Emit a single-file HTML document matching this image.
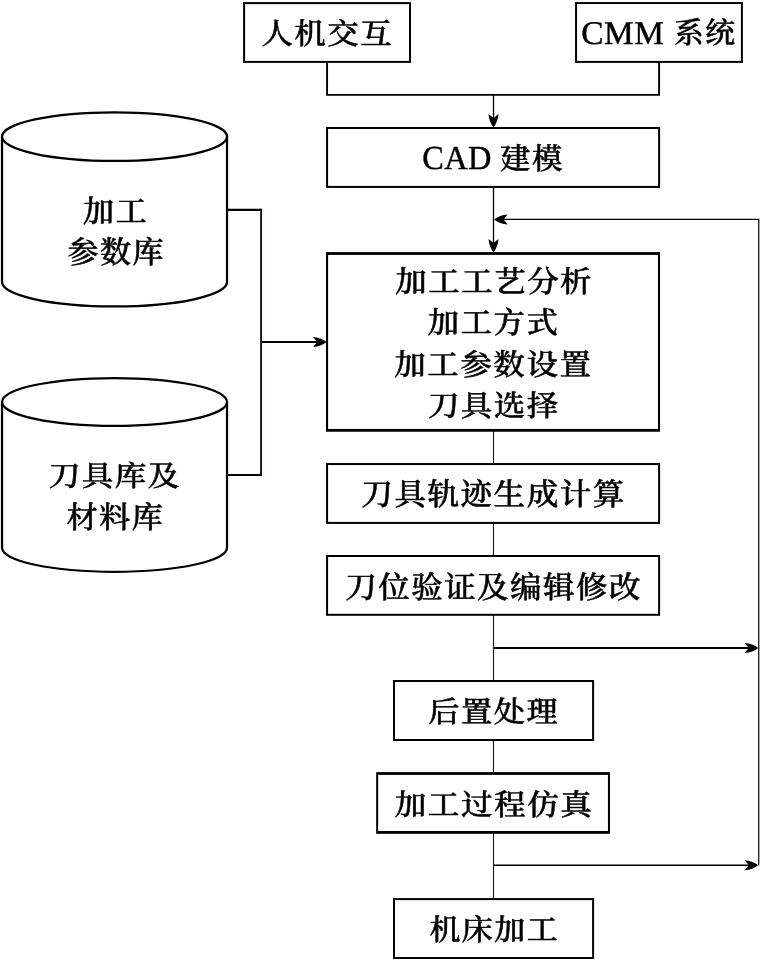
<!DOCTYPE html>
<html lang="zh-CN">
<head>
<meta charset="utf-8">
<title>CAD/CAM 加工流程图</title>
<style>
html,body{margin:0;padding:0;background:#fff;}
body{width:768px;height:960px;overflow:hidden;}
svg{display:block;will-change:transform;}
text{font-family:"Liberation Serif", "Noto Serif CJK SC", serif;fill:#000;text-rendering:geometricPrecision;font-size:32px;letter-spacing:1.5px;font-weight:500;stroke:#000;stroke-width:0.55px;stroke-linejoin:round;}
text.cy{stroke-width:0.55px;}
text.en{font-size:33px;letter-spacing:0.5px;font-weight:400;stroke-width:0.4px;}
</style>
</head>
<body>
<svg width="768" height="960" viewBox="0 0 768 960">
<rect x="0" y="0" width="768" height="960" fill="#fff"/>
<!-- connectors -->
<path d="M327.07 62 L327.07 94.9 L659.1 94.9 L659.1 62" fill="none" stroke="#000" stroke-width="1.9"/>
<path d="M493.5 94.9 L493.5 122" fill="none" stroke="#000" stroke-width="1.3"/>
<path d="M493.50 127.60 Q489.20 121.93 488.50 114.10 L493.50 118.10 L498.50 114.10 Q497.80 121.93 493.50 127.60 Z" fill="#000"/>
<path d="M493.5 187 L493.5 247" fill="none" stroke="#000" stroke-width="1.3"/>
<path d="M493.50 252.60 Q489.20 246.93 488.50 239.10 L493.50 243.10 L498.50 239.10 Q497.80 246.93 493.50 252.60 Z" fill="#000"/>
<path d="M498.5 219.4 L758.75 219.4 L758.75 865.3" fill="none" stroke="#000" stroke-width="1.2"/>
<path d="M494.10 219.50 Q499.77 215.20 507.60 214.50 L503.60 219.50 L507.60 224.50 Q499.77 223.80 494.10 219.50 Z" fill="#000"/>
<path d="M493.5 430 L493.5 900" fill="none" stroke="#101810" stroke-width="1.1"/>
<path d="M493.5 647.95 L753.75 647.95" fill="none" stroke="#000" stroke-width="2.1"/>
<path d="M758.25 647.95 Q752.58 643.65 744.75 642.95 L748.75 647.95 L744.75 652.95 Q752.58 652.25 758.25 647.95 Z" fill="#000"/>
<path d="M493.5 865.3 L753.75 865.3" fill="none" stroke="#000" stroke-width="1.4"/>
<path d="M758.25 865.30 Q752.58 861.00 744.75 860.30 L748.75 865.30 L744.75 870.30 Q752.58 869.60 758.25 865.30 Z" fill="#000"/>
<path d="M227 209.85 L261.1 209.85" fill="none" stroke="#000" stroke-width="2.2"/>
<path d="M227 474.9 L261.1 474.9" fill="none" stroke="#000" stroke-width="2.0"/>
<path d="M261.1 208.75 L261.1 475.9" fill="none" stroke="#1c0606" stroke-width="1.9"/>
<path d="M261.1 342 L321 342" fill="none" stroke="#000" stroke-width="2.1"/>
<path d="M326.60 342.00 Q320.93 337.70 313.10 337.00 L317.10 342.00 L313.10 347.00 Q320.93 346.30 326.60 342.00 Z" fill="#000"/>
<!-- boxes -->
<rect x="243.10" y="2.10" width="167.90" height="60.80" fill="#000"/><rect x="245.10" y="4.10" width="163.90" height="56.80" fill="#fff"/>
<rect x="575.05" y="2.05" width="167.85" height="60.85" fill="#000"/><rect x="577.05" y="4.05" width="163.85" height="56.85" fill="#fff"/>
<rect x="326.07" y="127.00" width="334.03" height="60.90" fill="#000"/><rect x="328.07" y="129.00" width="330.03" height="56.90" fill="#fff"/>
<rect x="326.00" y="252.10" width="334.05" height="179.65" fill="#000"/><rect x="328.10" y="254.90" width="329.85" height="174.05" fill="#fff"/>
<rect x="326.07" y="463.05" width="334.03" height="60.85" fill="#000"/><rect x="328.07" y="465.05" width="330.03" height="56.85" fill="#fff"/>
<rect x="326.07" y="555.00" width="334.03" height="60.80" fill="#000"/><rect x="328.07" y="557.00" width="330.03" height="56.80" fill="#fff"/>
<rect x="393.00" y="680.00" width="201.10" height="61.00" fill="#000"/><rect x="395.00" y="682.00" width="197.10" height="57.00" fill="#fff"/>
<rect x="376.15" y="772.10" width="233.80" height="61.70" fill="#000"/><rect x="378.15" y="774.90" width="229.80" height="56.10" fill="#fff"/>
<rect x="393.00" y="898.10" width="201.10" height="60.90" fill="#000"/><rect x="395.00" y="900.10" width="197.10" height="56.90" fill="#fff"/>
<!-- cylinders -->
<path d="M2.03 136.6 L2.03 282.09999999999997 A112.5 24.3 0 0 0 227.03 282.09999999999997 L227.03 136.6" fill="#fff" stroke="#000" stroke-width="2.25"/><ellipse cx="114.53" cy="136.6" rx="112.5" ry="24.3" fill="#fff" stroke="#000" stroke-width="2.25"/>
<path d="M2.03 401.95 L2.03 547.81 A112.5 23.95 0 0 0 227.03 547.81 L227.03 401.95" fill="#fff" stroke="#000" stroke-width="2.25"/><ellipse cx="114.53" cy="401.95" rx="112.5" ry="23.95" fill="#fff" stroke="#000" stroke-width="2.25"/>
<!-- labels -->
<text class="zh" transform="translate(261.28 43.66) scale(0.9855 0.9205)">人机交互</text>
<text class="en" transform="translate(581.27 44.20) scale(1.0111 1.0031)">CMM</text>
<text class="zh" transform="translate(673.99 43.49) scale(0.9311 0.9263)">系统</text>
<text class="en" transform="translate(422.15 169.11) scale(0.9801 1.0152)">CAD</text>
<text class="zh" transform="translate(500.07 168.75) scale(0.9502 0.9271)">建模</text>
<text class="zh" transform="translate(395.15 292.04) scale(0.9849 0.9330)">加工工艺分析</text>
<text class="zh" transform="translate(427.85 333.09) scale(0.9808 0.9376)">加工方式</text>
<text class="zh" transform="translate(394.34 374.52) scale(0.9854 0.9309)">加工参数设置</text>
<text class="zh" transform="translate(427.93 416.07) scale(0.9829 0.9190)">刀具选择</text>
<text class="zh" transform="translate(361.37 505.48) scale(0.9867 0.9625)">刀具轨迹生成计算</text>
<text class="zh" transform="translate(345.16 597.77) scale(0.9848 0.9585)">刀位验证及编辑修改</text>
<text class="zh" transform="translate(428.20 722.05) scale(0.9777 0.9133)">后置处理</text>
<text class="zh" transform="translate(394.65 814.53) scale(0.9894 0.9200)">加工过程仿真</text>
<text class="zh" transform="translate(429.38 940.49) scale(0.9680 0.9232)">机床加工</text>
<text class="zh cy" transform="translate(83.08 221.61) scale(0.9721 0.9564)">加工</text>
<text class="zh cy" transform="translate(67.59 262.64) scale(0.9702 0.9639)">参数库</text>
<text class="zh cy" transform="translate(48.71 485.85) scale(0.9860 0.9003)">刀具库及</text>
<text class="zh cy" transform="translate(66.62 528.22) scale(0.9724 0.9478)">材料库</text>
</svg>
</body>
</html>
